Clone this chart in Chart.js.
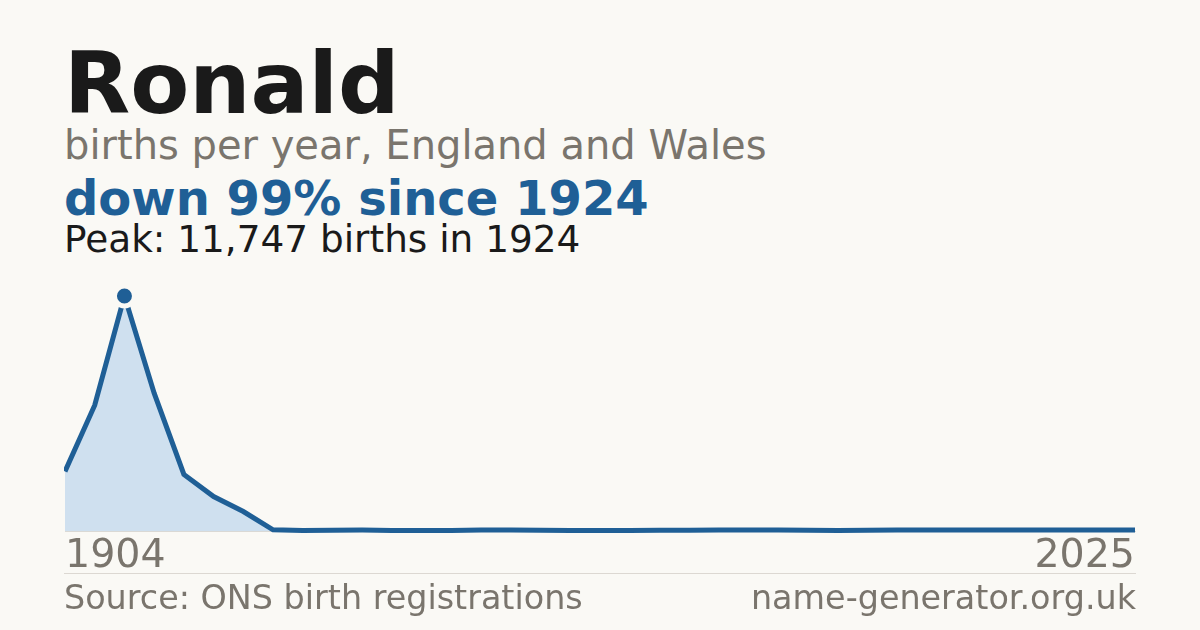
<!DOCTYPE html>
<html>
<head>
<meta charset="utf-8">
<script src="https://cdn.jsdelivr.net/npm/chart.js"></script>
<style>
  html, body { margin: 0; padding: 0; }
  body {
    width: 1200px; height: 630px; overflow: hidden;
    background: #faf9f5;
    font-family: "DejaVu Sans", sans-serif;
    position: relative;
  }
  .txt { position: absolute; left: 64px; line-height: 1; white-space: nowrap; }
  #title { top: 40px; font-size: 86px; font-weight: bold; color: #1a1a1a; }
  #sub { top: 125px; font-size: 40px; color: #7a756d; }
  #change { top: 174px; font-size: 48px; font-weight: bold; color: #1f5f96; }
  #peak { top: 221px; font-size: 37.4px; color: #1a1a1a; }
  #rule { position: absolute; left: 64px; width: 1072px; top: 573px; height: 1px; background: #dcd8d2; }
  .foot { position: absolute; top: 581px; font-size: 33.4px; color: #7a756d; line-height: 1; white-space: nowrap; }
  #source { left: 64px; }
  #site { right: 64px; }
  #wrap { position: absolute; left: 64px; top: 286px; width: 1072px; height: 295px; }
</style>
</head>
<body>
<div class="txt" id="title">Ronald</div>
<div class="txt" id="sub">births per year, England and Wales</div>
<div class="txt" id="change">down 99% since 1924</div>
<div class="txt" id="peak">Peak: 11,747 births in 1924</div>
<div id="wrap"><canvas id="trend"></canvas></div>
<div id="rule"></div>
<div class="foot" id="source">Source: ONS birth registrations</div>
<div class="foot" id="site">name-generator.org.uk</div>

<script>
// Decade snapshots up to 1994, then yearly figures
const years = [
    '1904', '1914', '1924', '1934', '1944', '1954', '1964', '1974', '1984', '1994',
    '1999', '2000', '2001', '2002', '2003', '2004', '2005', '2006', '2007',
    '2008', '2009', '2010', '2011', '2012', '2013', '2014', '2015', '2016',
    '2017', '2018', '2019', '2020', '2021', '2022', '2023', '2024', '2025'
];
const births = [
    3000, 6300, 11747, 6900, 2850, 1750, 1000, 90, 60, 70,
    80, 60, 55, 60, 75, 80, 70, 60, 55,
    60, 65, 70, 75, 75, 75, 70, 60, 65,
    75, 75, 75, 75, 75, 75, 75, 75, 75
];
const peakIndex = births.indexOf(Math.max(...births));

const lineBlue = '#1f5f96';
const fillBlue = '#cfe0ef';
const paper = '#faf9f5';

const ctx = document.getElementById('trend');
new Chart(ctx, {
    type: 'line',
    data: {
        labels: years,
        datasets: [{
            data: births,
            borderColor: lineBlue,
            borderWidth: 5,
            backgroundColor: fillBlue,
            fill: 'origin',
            tension: 0,
            clip: false,
            pointRadius: births.map((v, i) => i === peakIndex ? 10 : 0),
            pointBorderWidth: 5,
            pointBackgroundColor: lineBlue,
            pointBorderColor: paper,
            pointHoverRadius: 0
        }]
    },
    options: {
        responsive: true,
        maintainAspectRatio: false,
        animation: false,
        layout: { padding: { top: 10, left: 0, right: 0, bottom: 0 } },
        plugins: {
            legend: { display: false },
            tooltip: { enabled: false }
        },
        scales: {
            x: {
                z: 1,
                grid: { display: false, drawTicks: false },
                border: { display: true, color: '#dcd8d2', width: 1 },
                ticks: {
                    autoSkip: false,
                    maxRotation: 0,
                    align: 'inner',
                    padding: 1,
                    color: '#7a756d',
                    font: { family: 'DejaVu Sans', size: 39.5 },
                    callback: function(value, index, ticks) {
                        if (index === 0 || index === ticks.length - 1) {
                            return this.getLabelForValue(value);
                        }
                        return null;
                    }
                }
            },
            y: {
                display: false,
                min: 0,
                max: 11747
            }
        }
    }
});
</script>
</body>
</html>
